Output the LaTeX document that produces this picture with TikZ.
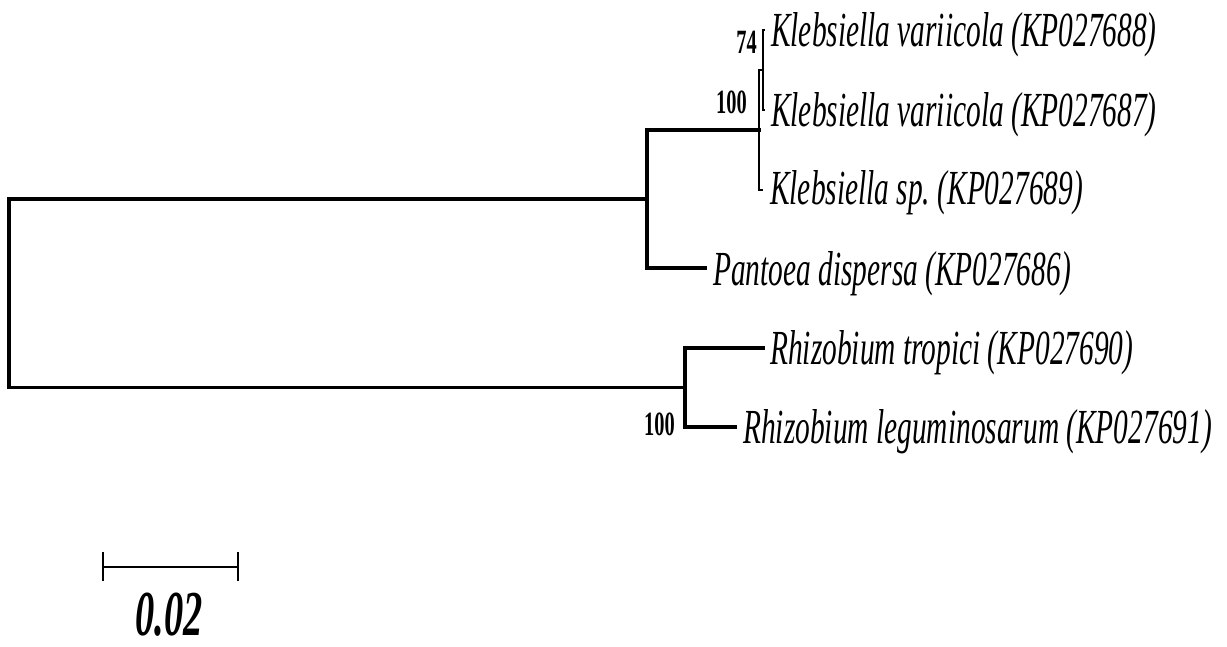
\documentclass[tikz,border=0pt]{standalone}
\usepackage{fontspec}
\newfontfamily\tx{Liberation Serif}[FakeStretch=0.6]
\frenchspacing
\tikzset{
  br/.style={line width=3.3pt, line cap=rect},
  fine/.style={line width=1.8pt, line cap=rect},
  taxon/.style={anchor=base west, inner sep=0pt, font=\tx\itshape\fontsize{49}{49}\selectfont},
  boot/.style={anchor=base east, inner sep=0pt, font=\tx\bfseries\fontsize{34}{34}\selectfont},
  scalelab/.style={anchor=base, inner sep=0pt, text depth=0pt, font=\tx\bfseries\itshape\fontsize{64}{64}\selectfont}
}
\begin{document}
\begin{tikzpicture}[x=1pt,y=-1pt]
\useasboundingbox (0,0) rectangle (1227,646);
% inner nodes
\coordinate (rt) at (9,199);
\coordinate (rb) at (9,387.5);
\coordinate (k) at (647,199);
\coordinate (kt) at (647,130);
\coordinate (kb) at (647,268);
\coordinate (a) at (759,130);
\coordinate (at) at (759,70);
\coordinate (ab) at (759,190);
\coordinate (b) at (763,70);
\coordinate (bt) at (763,30);
\coordinate (bb) at (763,110);
\coordinate (r) at (685,387.5);
\coordinate (rt2) at (685,348);
\coordinate (rb2) at (685,427);
% leaf ends
\coordinate (e1) at (764,30);
\coordinate (e2) at (764,110);
\coordinate (e3) at (762,190);
\coordinate (e4) at (705,268);
\coordinate (e5) at (763,348);
\coordinate (e6) at (735,427);
% taxa
\node[taxon] (t1) at (771,46) {Klebsiella variicola (KP027688)};
\node[taxon] (t2) at (771,126) {Klebsiella variicola (KP027687)};
\node[taxon] (t3) at (770,204) {Klebsiella sp. (KP027689)};
\node[taxon] (t4) at (713,285) {Pantoea dispersa (KP027686)};
\node[taxon] (t5) at (770,364) {Rhizobium tropici (KP027690)};
\node[taxon] (t6) at (743,443) {Rhizobium leguminosarum (KP027691)};
% bootstrap values
\node[boot] (bs74) at (757,53) {74};
\node[boot] (bs100a) at (747,113) {100};
\node[boot] (bs100b) at (675,435) {100};
% branches
\draw[br] (rt) -- (rb);
\draw[br] (rt) -- (k);
\draw[br] (rb) -- (r);
\draw[br] (kt) -- (kb);
\draw[br] (kt) -- (a);
\draw[br] (kb) -- (e4);
\draw[fine] (at) -- (ab);
\draw[fine] (at) -- (b);
\draw[fine] (bt) -- (bb);
\draw[fine] (bt) -- (e1);
\draw[fine] (bb) -- (e2);
\draw[fine] (ab) -- (e3);
\draw[br] (rt2) -- (rb2);
\draw[br] (rt2) -- (e5);
\draw[br] (rb2) -- (e6);
% scale bar
\coordinate (s1) at (103,567);
\coordinate (s2) at (238,567);
\coordinate (s1t) at (103,552);
\coordinate (s1b) at (103,581);
\coordinate (s2t) at (238,552);
\coordinate (s2b) at (238,581);
\draw[line width=2.8pt] (s1) -- (s2);
\draw[line width=2pt] (s1t) -- (s1b);
\draw[line width=2pt] (s2t) -- (s2b);
\node[scalelab] (sl) at (169,635) {0.02};
\end{tikzpicture}
\end{document}
